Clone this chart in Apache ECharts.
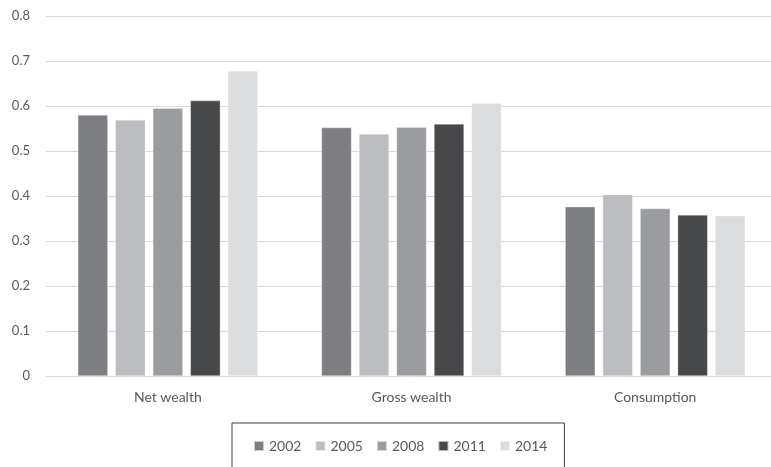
<!DOCTYPE html>
<html>
<head>
<meta charset="utf-8">
<script src="https://cdn.jsdelivr.net/npm/echarts@6/dist/echarts.min.js"></script>
<style>
html,body{margin:0;padding:0;background:#fff;overflow:hidden;width:771px;height:467px;}
#chart{width:790px;height:467px;}
</style>
</head>
<body>
<div id="chart"></div>
<script>
const categories = ['Net wealth', 'Gross wealth', 'Consumption'];
const years = ['2002', '2005', '2008', '2011', '2014'];
const v2002 = [0.580, 0.552, 0.376];
const v2005 = [0.569, 0.538, 0.403];
const v2008 = [0.595, 0.553, 0.372];
const v2011 = [0.612, 0.560, 0.358];
const v2014 = [0.678, 0.606, 0.356];
const yTicks = [0, 0.1, 0.2, 0.3, 0.4, 0.5, 0.6, 0.7, 0.8];

const seriesValues = [v2002, v2005, v2008, v2011, v2014];
const colors = ['#7d7e81', '#bcbdc0', '#9b9c9f', '#474849', '#dbdcde'];

const chart = echarts.init(document.getElementById('chart'));
chart.setOption({
  animation: false,
  color: colors,
  textStyle: { fontFamily: 'Lato, Carlito, sans-serif' },
  grid: { left: 46, top: 16, width: 731, height: 360, containLabel: false },
  legend: {
    data: years,
    left: 232,
    top: 423,
    orient: 'horizontal',
    itemWidth: 10,
    itemHeight: 10,
    itemGap: 13,
    icon: 'rect',
    padding: [16, 17, 40, 21],
    borderColor: '#3f3f3f',
    borderWidth: 1,
    textStyle: { color: '#595959', fontSize: 14, fontFamily: 'Lato, sans-serif' }
  },
  xAxis: {
    type: 'category',
    data: categories,
    axisLine: { show: true, lineStyle: { color: '#d9d9d9', width: 1 } },
    axisTick: { show: false },
    axisLabel: { color: '#595959', fontSize: 14, margin: 14, fontFamily: 'Lato, sans-serif' }
  },
  yAxis: {
    type: 'value',
    min: yTicks[0],
    max: yTicks[yTicks.length - 1],
    interval: 0.1,
    axisLine: { show: false },
    axisTick: { show: false },
    axisLabel: { color: '#595959', fontSize: 13, margin: 16, fontFamily: 'Lato, sans-serif',
      formatter: v => (Math.round(v * 10) / 10).toString() },
    splitLine: { lineStyle: { color: '#d9d9d9', width: 1 } }
  },
  series: years.map((y, i) => ({
    name: y,
    type: 'bar',
    data: seriesValues[i],
    barWidth: 30,
    barGap: '25%',
    itemStyle: { borderColor: 'rgba(255,255,255,0.6)', borderWidth: 0.5 }
  }))
});
</script>
</body>
</html>
